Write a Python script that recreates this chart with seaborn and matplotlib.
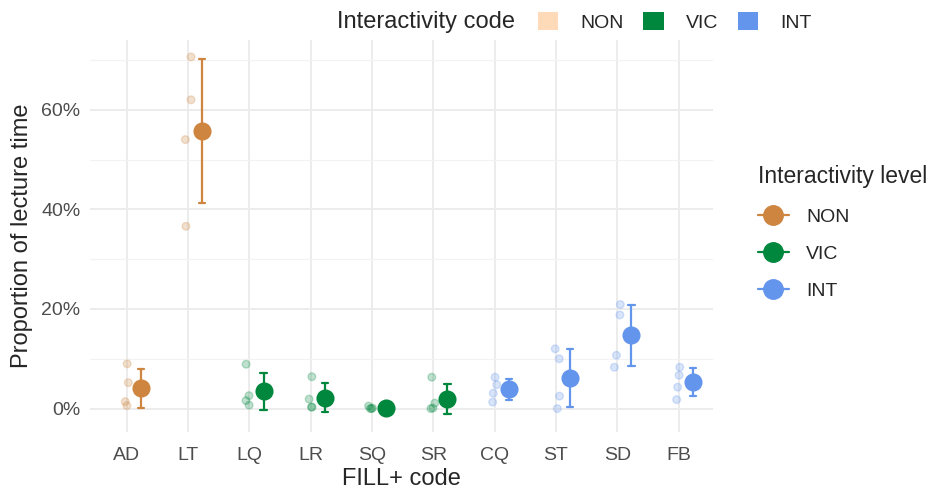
import numpy as np
import pandas as pd
import seaborn as sns
import matplotlib.pyplot as plt
import matplotlib.transforms as mtransforms
from matplotlib.ticker import PercentFormatter, MultipleLocator
from matplotlib.lines import Line2D
from matplotlib.patches import Patch

# FILL+ codes and their interactivity level
codes = ["AD", "LT", "LQ", "LR", "SQ", "SR", "CQ", "ST", "SD", "FB"]
levels = ["NON", "NON", "VIC", "VIC", "VIC", "VIC", "INT", "INT", "INT", "INT"]

# proportion of lecture time (%) for each of the four lectures
lecture_1 = [9.0, 70.6, 8.9, 6.4, 0.5, 6.3, 6.3, 12.0, 20.9, 8.3]
lecture_2 = [5.2, 62.0, 2.6, 1.9, 0.1, 1.1, 4.8, 10.0, 18.8, 6.7]
lecture_3 = [1.4, 54.0, 1.6, 0.3, 0.0, 0.1, 3.1, 2.5, 10.7, 4.3]
lecture_4 = [0.6, 36.6, 0.7, 0.3, 0.0, 0.0, 1.3, 0.0, 8.3, 1.8]

level_order = ["NON", "VIC", "INT"]
point_colors = ["#CD853F", "#00873E", "#6495ED"]
code_colors = ["#FFDAB9", "#00873E", "#6495ED"]

rows = []
for lec in [lecture_1, lecture_2, lecture_3, lecture_4]:
    for c, lv, v in zip(codes, levels, lec):
        rows.append({"code": c, "level": lv, "value": v})
df = pd.DataFrame(rows)

sns.set_style("whitegrid")
plt.rcParams["font.family"] = ["Liberation Sans", "DejaVu Sans"]

fig = plt.figure(figsize=(9.31, 4.91), dpi=100)
ax = fig.add_axes([90 / 931, 1 - 432 / 491, (713 - 90) / 931, (432 - 40) / 491])

pal = dict(zip(level_order, point_colors))

# raw values, jittered
np.random.seed(3)
sns.stripplot(data=df, x="code", y="value", hue="level", order=codes,
              hue_order=level_order, palette=pal, jitter=0.06, size=5.5,
              alpha=0.25, linewidth=1, edgecolor=None, legend=False, ax=ax,
              zorder=2)
for coll in ax.collections:
    coll.set_edgecolor(coll.get_facecolor())

# mean +/- sd, nudged to the right
n_before = len(ax.lines)
sns.pointplot(data=df, x="code", y="value", hue="level", order=codes,
              hue_order=level_order, palette=pal, errorbar="sd", capsize=0.1,
              linestyle="none", markersize=11, err_kws={"linewidth": 1.6},
              legend=False, ax=ax)
shift = mtransforms.Affine2D().translate(0.23, 0) + ax.transData
for ln in ax.lines[n_before:]:
    ln.set_transform(shift)
    if ln.get_marker() not in (None, "None", "", " "):
        ln.set_zorder(5)
    else:
        ln.set_zorder(4)

ax.set_xlim(-0.6, 9.56)
ax.set_ylim(-4.7, 74.0)
ax.yaxis.set_major_locator(MultipleLocator(20))
ax.yaxis.set_minor_locator(MultipleLocator(10))
ax.yaxis.set_major_formatter(PercentFormatter(decimals=0))
ax.grid(True, which="major", color="#EBEBEB", linewidth=1.3)
ax.grid(True, which="minor", axis="y", color="#F2F2F2", linewidth=0.8)
ax.set_axisbelow(True)
for s in ax.spines.values():
    s.set_visible(False)
ax.tick_params(axis="both", which="both", length=0, labelsize=14,
               labelcolor="#4D4D4D")
ax.tick_params(axis="x", pad=11)
ax.tick_params(axis="y", pad=7)
ax.set_xlabel("FILL+ code", fontsize=17, labelpad=3)
ax.set_ylabel("Proportion of lecture time", fontsize=17, labelpad=6)

# right legend: interactivity level
lvl_handles = [Line2D([0], [0], color=c, marker="o", markersize=14,
                      linewidth=1.6, label=l)
               for l, c in zip(level_order, point_colors)]
fig.legend(handles=lvl_handles, title="Interactivity level", loc="upper left",
           bbox_to_anchor=(740 / 931, 1 - 148 / 491), frameon=False,
           fontsize=14, title_fontsize=16.5, handlelength=1.6,
           handletextpad=0.9, labelspacing=1.0, alignment="left")

# top legend: interactivity code
fig.text(337 / 931, 1 - 22 / 491, "Interactivity code", fontsize=17,
         va="center", ha="left")
code_handles = [Patch(facecolor=c, edgecolor="none", label=l)
                for l, c in zip(level_order, code_colors)]
fig.legend(handles=code_handles, loc="center left",
           bbox_to_anchor=(520 / 931, 1 - 22 / 491), ncol=3, frameon=False,
           fontsize=14, handlelength=1.05, handleheight=1.05,
           columnspacing=1.0, handletextpad=1.15)

fig.savefig("out.png", dpi=100)
